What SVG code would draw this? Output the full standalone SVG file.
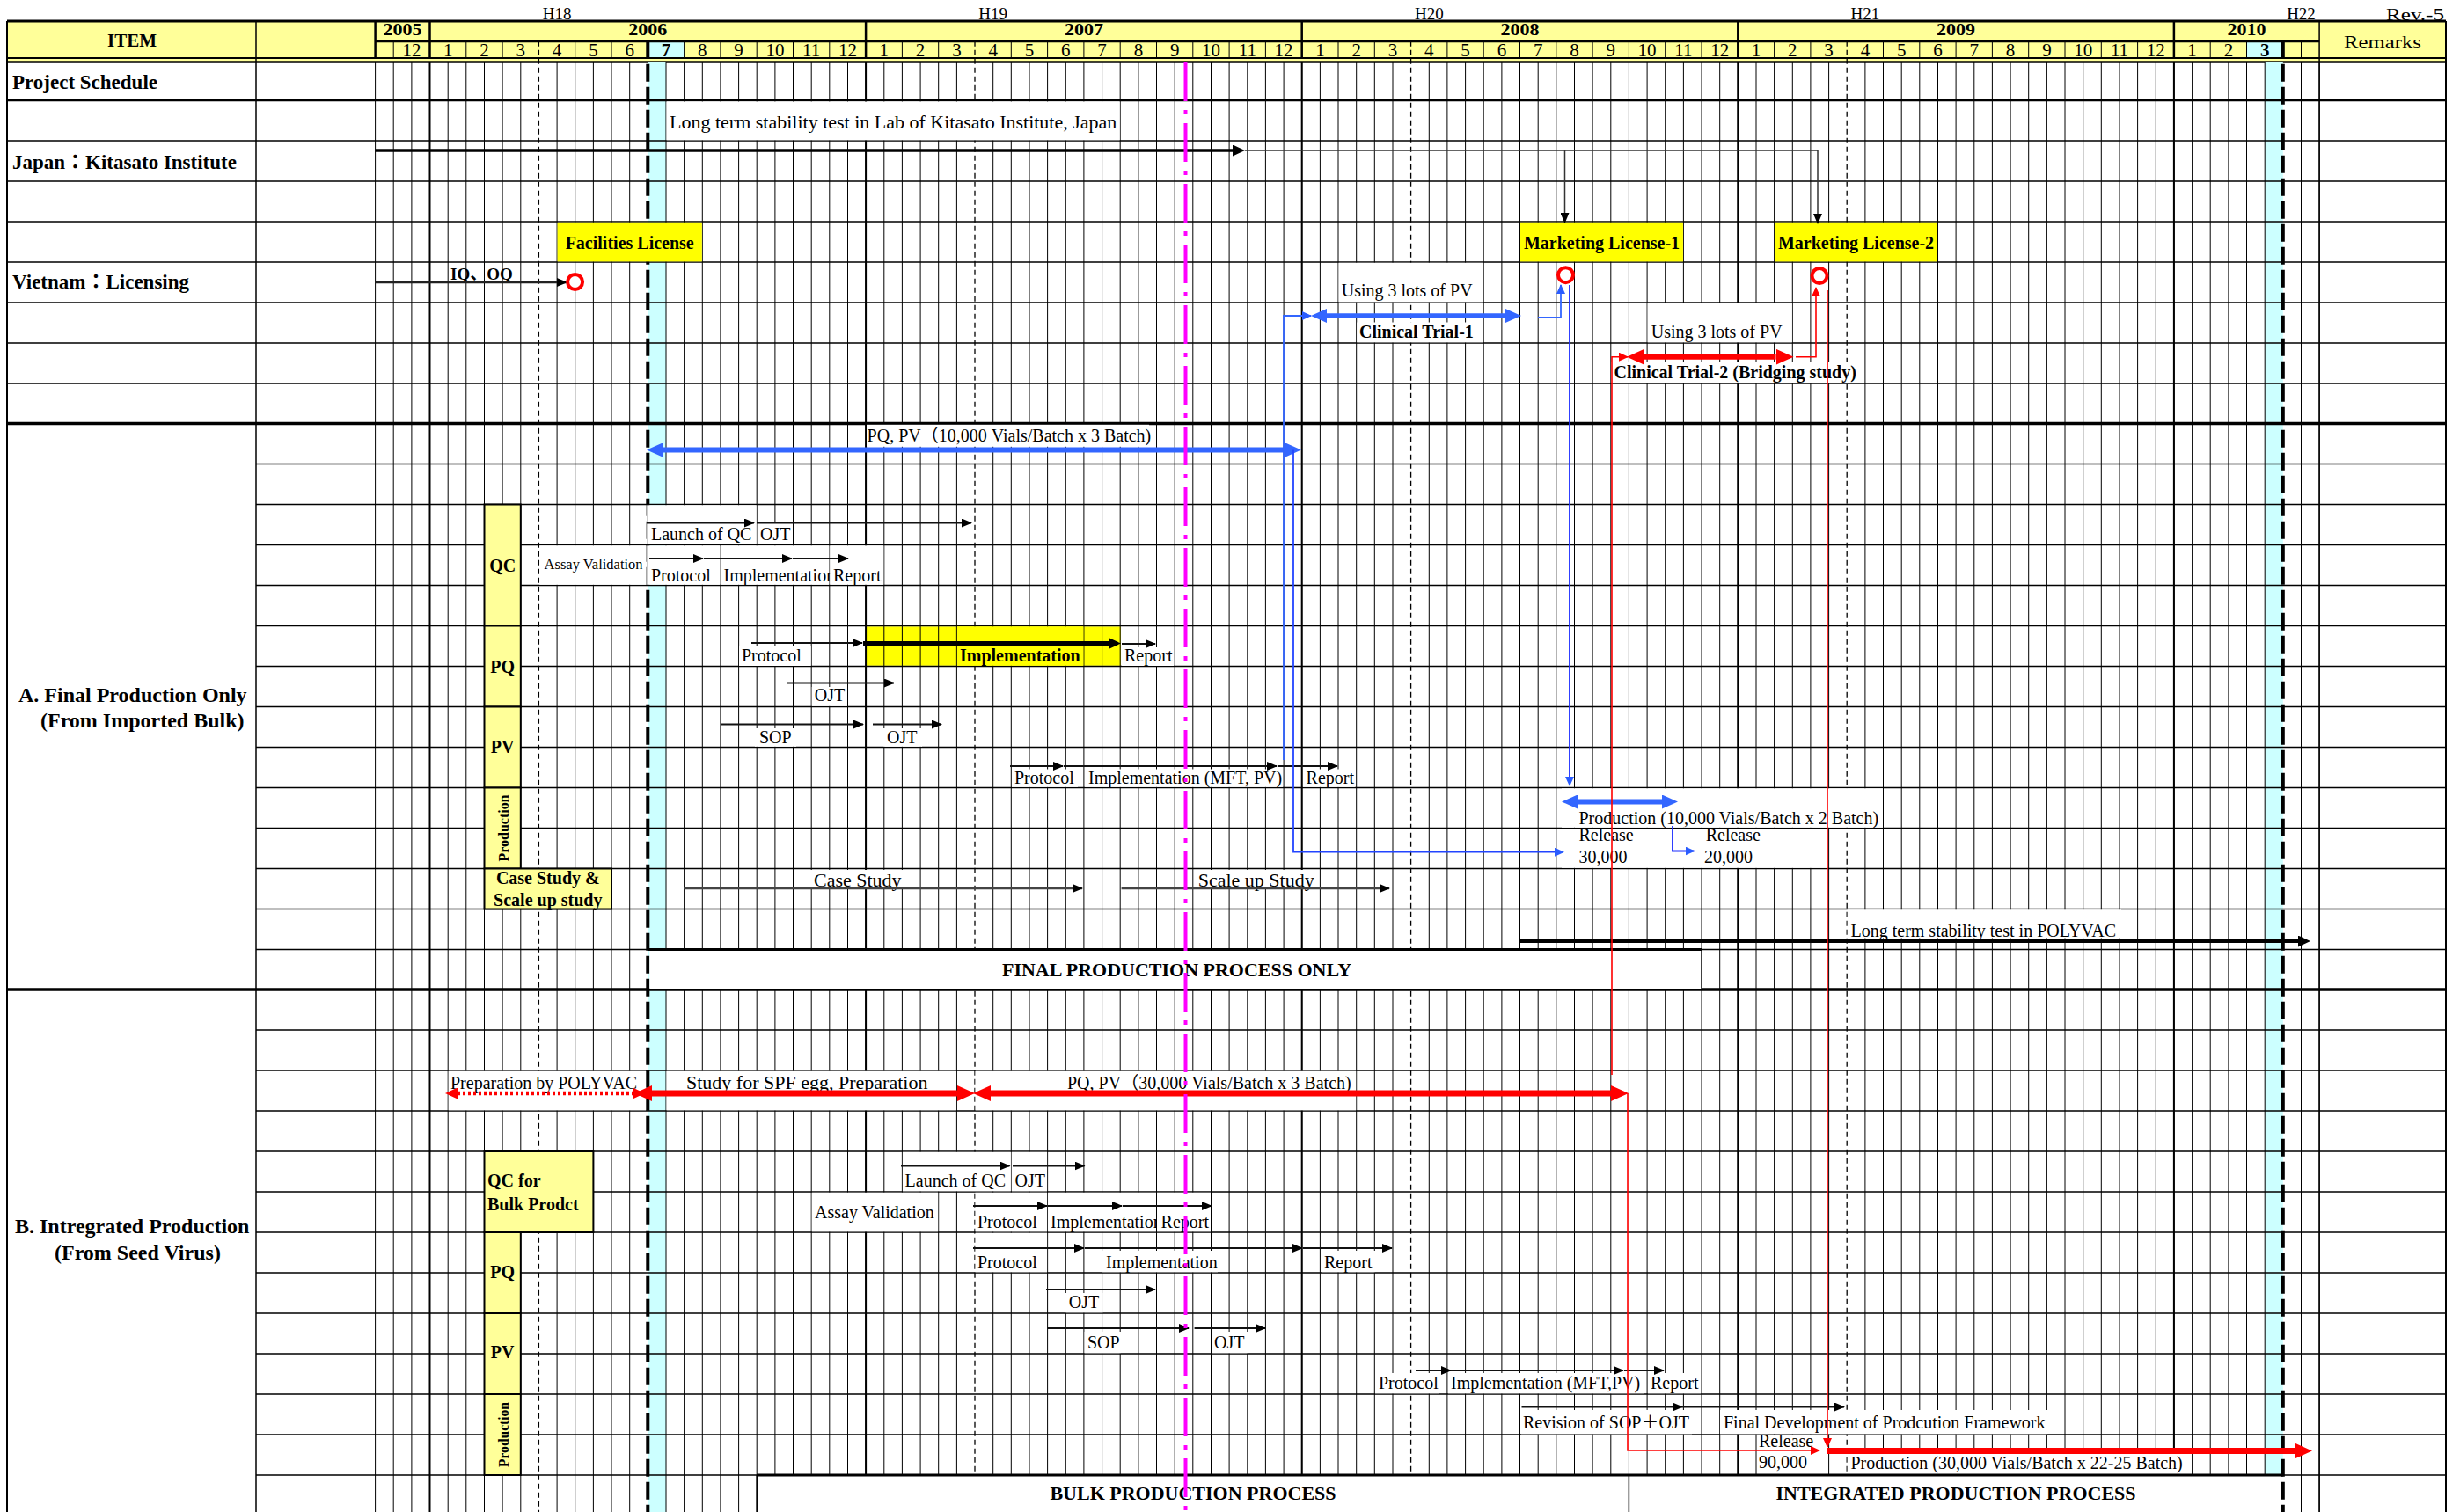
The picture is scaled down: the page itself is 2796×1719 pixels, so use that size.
<svg xmlns="http://www.w3.org/2000/svg" width="2796" height="1719" viewBox="0 0 2796 1719">
<defs>
<style>
.t{font-family:"Liberation Serif","Times New Roman","Noto Sans CJK JP",serif;font-size:20px;fill:#000}
.b{font-family:"Liberation Serif","Times New Roman","Noto Sans CJK JP",serif;font-size:20px;font-weight:bold;fill:#000}
.mo{font-size:21px}
.m{text-anchor:middle}
.e{text-anchor:end}
.lb{fill:#fff}
.yb{fill:#ffff99;stroke:#000;stroke-width:2}
.lic{fill:#ffff00}
.a{fill:none;stroke:#111;stroke-width:2;marker-end:url(#k)}
.bt{fill:none;stroke:#3366ff;stroke-width:1.8;marker-end:url(#bs)}
.rt{fill:none;stroke:#ff0000;stroke-width:1.6;marker-end:url(#rs)}
.bd{fill:none;stroke:#3366ff;stroke-width:6;marker-start:url(#bb);marker-end:url(#bb)}
.rd{fill:none;stroke:#ff0000;stroke-width:7;marker-start:url(#rb);marker-end:url(#rb)}
.ms{fill:#fff;stroke:#ff0000;stroke-width:4}
</style>
<marker id="k" viewBox="0 0 12 10" refX="11" refY="5" markerWidth="12" markerHeight="10" markerUnits="userSpaceOnUse" orient="auto"><path d="M0,0L12,5L0,10z" fill="#000"/></marker>
<marker id="K" viewBox="0 0 14 13" refX="0" refY="6.5" markerWidth="14" markerHeight="13" markerUnits="userSpaceOnUse" orient="auto"><path d="M0,0L14,6.5L0,13z" fill="#000"/></marker>
<marker id="bs" viewBox="0 0 11 10" refX="10" refY="5" markerWidth="11" markerHeight="10" markerUnits="userSpaceOnUse" orient="auto"><path d="M0,0L11,5L0,10z" fill="#2a5cff"/></marker>
<marker id="bb" viewBox="0 0 18 16" refX="0" refY="8" markerWidth="18" markerHeight="16" markerUnits="userSpaceOnUse" orient="auto-start-reverse"><path d="M0,0L18,8L0,16z" fill="#3366ff"/></marker>
<marker id="rs" viewBox="0 0 11 10" refX="10" refY="5" markerWidth="11" markerHeight="10" markerUnits="userSpaceOnUse" orient="auto"><path d="M0,0L11,5L0,10z" fill="#ff0000"/></marker>
<marker id="rb" viewBox="0 0 20 18" refX="0" refY="9" markerWidth="20" markerHeight="18" markerUnits="userSpaceOnUse" orient="auto-start-reverse"><path d="M0,0L20,9L0,18z" fill="#ff0000"/></marker>
<marker id="rdm" viewBox="0 0 14 13" refX="0" refY="6.5" markerWidth="14" markerHeight="13" markerUnits="userSpaceOnUse" orient="auto-start-reverse"><path d="M0,0L14,6.5L0,13z" fill="#ff0000"/></marker>
<clipPath id="c1"><rect x="800" y="630" width="143.3" height="40"/></clipPath>
<clipPath id="c2"><rect x="1190" y="1370" width="125" height="40"/></clipPath>
</defs>
<rect x="0" y="0" width="2796" height="1719" fill="#fff"/>

<g id="header">
<rect x="8" y="24" width="2772" height="46.5" fill="#ffff99"/>
<rect x="736.3" y="46.8" width="41.3" height="19.2" fill="#ccffff"/>
<rect x="2553.5" y="46.8" width="41.3" height="19.2" fill="#ccffff"/>
<path d="M447.2 46.8V66M529.8 46.8V66M571.1 46.8V66M653.7 46.8V66M695 46.8V66M777.6 46.8V66M818.9 46.8V66M860.2 46.8V66M901.5 46.8V66M942.8 46.8V66M1025.4 46.8V66M1066.7 46.8V66M1149.3 46.8V66M1190.6 46.8V66M1231.9 46.8V66M1273.2 46.8V66M1314.5 46.8V66M1355.8 46.8V66M1397.1 46.8V66M1438.4 46.8V66M1521 46.8V66M1562.3 46.8V66M1644.9 46.8V66M1686.2 46.8V66M1727.5 46.8V66M1768.8 46.8V66M1810.1 46.8V66M1851.4 46.8V66M1892.7 46.8V66M1934 46.8V66M2016.6 46.8V66M2057.9 46.8V66M2140.5 46.8V66M2181.8 46.8V66M2223.1 46.8V66M2264.4 46.8V66M2305.7 46.8V66M2347 46.8V66M2388.3 46.8V66M2429.6 46.8V66M2512.2 46.8V66M2553.5 46.8V66M2615.5 46.8V66" stroke="#000" stroke-width="1"/>
<path d="M426.6 24V66M488.5 24V66M984.1 24V66M1479.7 24V66M1975.3 24V66M2470.9 24V66" stroke="#000" stroke-width="2.5"/>
<path d="M8 24H2780M426.6 46.8H2636.1" stroke="#000" stroke-width="3"/>
<path d="M8 66H2780" stroke="#000" stroke-width="2"/>
<path d="M8 70.5H2780" stroke="#000" stroke-width="2.5"/>
<text class="t m" x="633.1" y="22" style="font-size:19px">H18</text>
<text class="t m" x="1128.7" y="22" style="font-size:19px">H19</text>
<text class="t m" x="1624.3" y="22" style="font-size:19px">H20</text>
<text class="t m" x="2119.9" y="22" style="font-size:19px">H21</text>
<text class="t m" x="2615.5" y="22" style="font-size:19px">H22</text>
<text class="t e" x="2778" y="23" style="font-size:19px" textLength="66" lengthAdjust="spacingAndGlyphs">Rev.-5</text>
<text class="b m" x="150" y="53" style="font-size:21px">ITEM</text>
<text class="t m" x="2708" y="55" style="font-size:22px" textLength="88" lengthAdjust="spacingAndGlyphs">Remarks</text>
<text class="b m" x="457.5" y="40" style="font-size:19px" textLength="44" lengthAdjust="spacingAndGlyphs">2005</text>
<text class="b m" x="736.3" y="40" style="font-size:19px" textLength="44" lengthAdjust="spacingAndGlyphs">2006</text>
<text class="b m" x="1231.9" y="40" style="font-size:19px" textLength="44" lengthAdjust="spacingAndGlyphs">2007</text>
<text class="b m" x="1727.5" y="40" style="font-size:19px" textLength="44" lengthAdjust="spacingAndGlyphs">2008</text>
<text class="b m" x="2223.1" y="40" style="font-size:19px" textLength="44" lengthAdjust="spacingAndGlyphs">2009</text>
<text class="b m" x="2553.5" y="40" style="font-size:19px" textLength="44" lengthAdjust="spacingAndGlyphs">2010</text>
<text class="t m mo" x="467.9" y="63.5">12</text>
<text class="t m mo" x="509.2" y="63.5">1</text><text class="t m mo" x="550.5" y="63.5">2</text><text class="t m mo" x="591.8" y="63.5">3</text><text class="t m mo" x="633.1" y="63.5">4</text><text class="t m mo" x="674.4" y="63.5">5</text><text class="t m mo" x="715.7" y="63.5">6</text><text class="b m mo" x="757" y="63.5">7</text><text class="t m mo" x="798.3" y="63.5">8</text><text class="t m mo" x="839.6" y="63.5">9</text><text class="t m mo" x="880.9" y="63.5">10</text><text class="t m mo" x="922.2" y="63.5">11</text><text class="t m mo" x="963.5" y="63.5">12</text>
<text class="t m mo" x="1004.8" y="63.5">1</text><text class="t m mo" x="1046.1" y="63.5">2</text><text class="t m mo" x="1087.4" y="63.5">3</text><text class="t m mo" x="1128.7" y="63.5">4</text><text class="t m mo" x="1170" y="63.5">5</text><text class="t m mo" x="1211.3" y="63.5">6</text><text class="t m mo" x="1252.6" y="63.5">7</text><text class="t m mo" x="1293.9" y="63.5">8</text><text class="t m mo" x="1335.2" y="63.5">9</text><text class="t m mo" x="1376.5" y="63.5">10</text><text class="t m mo" x="1417.8" y="63.5">11</text><text class="t m mo" x="1459.1" y="63.5">12</text>
<text class="t m mo" x="1500.4" y="63.5">1</text><text class="t m mo" x="1541.7" y="63.5">2</text><text class="t m mo" x="1583" y="63.5">3</text><text class="t m mo" x="1624.3" y="63.5">4</text><text class="t m mo" x="1665.6" y="63.5">5</text><text class="t m mo" x="1706.9" y="63.5">6</text><text class="t m mo" x="1748.2" y="63.5">7</text><text class="t m mo" x="1789.5" y="63.5">8</text><text class="t m mo" x="1830.8" y="63.5">9</text><text class="t m mo" x="1872.1" y="63.5">10</text><text class="t m mo" x="1913.4" y="63.5">11</text><text class="t m mo" x="1954.7" y="63.5">12</text>
<text class="t m mo" x="1996" y="63.5">1</text><text class="t m mo" x="2037.3" y="63.5">2</text><text class="t m mo" x="2078.6" y="63.5">3</text><text class="t m mo" x="2119.9" y="63.5">4</text><text class="t m mo" x="2161.2" y="63.5">5</text><text class="t m mo" x="2202.5" y="63.5">6</text><text class="t m mo" x="2243.8" y="63.5">7</text><text class="t m mo" x="2285.1" y="63.5">8</text><text class="t m mo" x="2326.4" y="63.5">9</text><text class="t m mo" x="2367.7" y="63.5">10</text><text class="t m mo" x="2409" y="63.5">11</text><text class="t m mo" x="2450.3" y="63.5">12</text>
<text class="t m mo" x="2491.6" y="63.5">1</text><text class="t m mo" x="2532.9" y="63.5">2</text><text class="b m mo" x="2574.2" y="63.5">3</text>
</g>

<g id="grid">
<rect x="736.3" y="70.5" width="20.7" height="1648.5" fill="#ccffff"/>
<rect x="2574.2" y="70.5" width="20.6" height="1606.5" fill="#ccffff"/>
<rect x="985" y="712.3" width="289" height="44.5" fill="#ffff00"/>
<path d="M426.6 70V1719M447.2 70V1719M467.9 70V1719M488.5 70V1719M509.2 70V1719M529.8 70V1719M550.5 70V1719M571.1 70V1719M591.8 70V1719M633.1 70V1719M653.7 70V1719M674.4 70V1719M695 70V1719M715.7 70V1719M757 70V1719M777.6 70V1719M798.3 70V1719M818.9 70V1719M839.6 70V1719M860.2 70V1719M880.9 70V1719M901.5 70V1719M922.2 70V1719M942.8 70V1719M963.5 70V1719M984.1 70V1719M1004.8 70V1719M1025.4 70V1719M1046.1 70V1719M1066.7 70V1719M1087.4 70V1719M1128.7 70V1719M1149.3 70V1719M1170 70V1719M1190.6 70V1719M1211.3 70V1719M1231.9 70V1719M1252.6 70V1719M1273.2 70V1719M1293.9 70V1719M1314.5 70V1719M1335.2 70V1719M1355.8 70V1719M1376.5 70V1719M1397.1 70V1719M1417.8 70V1719M1438.4 70V1719M1459.1 70V1719M1479.7 70V1719M1500.4 70V1719M1521 70V1719M1541.7 70V1719M1562.3 70V1719M1583 70V1719M1624.3 70V1719M1644.9 70V1719M1665.6 70V1719M1686.2 70V1719M1706.9 70V1719M1727.5 70V1719M1748.2 70V1719M1768.8 70V1719M1789.5 70V1719M1810.1 70V1719M1830.8 70V1719M1851.4 70V1719M1872.1 70V1719M1892.7 70V1719M1913.4 70V1719M1934 70V1719M1954.7 70V1719M1975.3 70V1719M1996 70V1719M2016.6 70V1719M2037.3 70V1719M2057.9 70V1719M2078.6 70V1719M2119.9 70V1719M2140.5 70V1719M2161.2 70V1719M2181.8 70V1719M2202.5 70V1719M2223.1 70V1719M2243.8 70V1719M2264.4 70V1719M2285.1 70V1719M2305.7 70V1719M2326.4 70V1719M2347 70V1719M2367.7 70V1719M2388.3 70V1719M2409 70V1719M2429.6 70V1719M2450.3 70V1719M2470.9 70V1719M2491.6 70V1719M2512.2 70V1719M2532.9 70V1719M2553.5 70V1719M2574.2 70V1719M2615.5 70V1719M2636.1 70V1719" stroke="#000" stroke-width="1"/>
<path d="M488.5 70V1719M984.1 70V1719M1479.7 70V1719M1975.3 70V1719M2470.9 70V1719" stroke="#000" stroke-width="2"/>
<path d="M8 160H2780M8 206H2780M8 252H2780M8 298H2780M8 344H2780M8 390H2780M8 436H2780M291 527.5H2780M291 573.5H2780M291 619.5H2780M291 665.5H2780M291 711.5H2780M291 757.5H2780M291 803.5H2780M291 849.5H2780M291 895.5H2780M291 941.5H2780M291 987.5H2780M291 1033.5H2780M291 1079.5H2780M291 1171H2780M291 1217H2780M291 1263H2780M291 1309H2780M291 1355H2780M291 1401H2780M291 1447H2780M291 1493H2780M291 1539H2780M291 1585H2780M291 1631H2780M291 1677H2780" stroke="#000" stroke-width="1.5"/>
<path d="M8 114H2780" stroke="#000" stroke-width="2.5"/>
<path d="M8 481.5H2780M8 1125H2780" stroke="#000" stroke-width="3.5"/>
<path d="M8 24V1719M2780 24V1719" stroke="#000" stroke-width="2"/>
<path d="M291 24V1719M2636.1 24V1719" stroke="#000" stroke-width="1.5"/>
<path d="M612.4 46.8V1719M1108 46.8V1719M1603.6 46.8V1719M2099.2 46.8V1719" stroke="#000" stroke-width="1.3" stroke-dasharray="6,4"/>
<path d="M736.3 46.8V1719M2594.8 46.8V1719" stroke="#000" stroke-width="4" stroke-dasharray="20,6"/>
</g>

<g id="row-project-schedule"><text class="b" x="14" y="101" style="font-size:23px">Project Schedule</text></g>
<g id="kitasato-stability"><rect class="lb" x="757.5" y="115.5" width="515.2" height="43.8"/><text class="t" x="761" y="146" style="font-size:22px">Long term stability test in Lab of Kitasato Institute, Japan</text></g>
<g id="row-japan"><text class="b" x="14" y="192" style="font-size:23px">Japan：Kitasato Institute</text></g>
<g id="facilities-license"><rect class="lic" x="633.6" y="252.8" width="164.2" height="44.6"/><text class="b m" x="715.7" y="283">Facilities License</text></g>
<g id="marketing-license-1"><rect class="lic" x="1728" y="252.8" width="184.9" height="44.6"/><text class="b m" x="1820.5" y="282.5">Marketing License-1</text></g>
<g id="marketing-license-2"><rect class="lic" x="2017.1" y="252.8" width="184.9" height="44.6"/><text class="b m" x="2109.5" y="282.5">Marketing License-2</text></g>
<g id="row-vietnam"><text class="b" x="14" y="328" style="font-size:23px">Vietnam：Licensing</text></g>
<g id="iq-oq"><text class="b" x="512" y="318" style="font-size:19px">IQ、OQ</text></g>
<g id="clinical-trial-1"><rect class="lb" x="1521.5" y="298.8" width="164.2" height="44.5"/><text class="t" x="1524.7" y="336.5">Using 3 lots of PV</text><rect class="lb" x="1542.2" y="366.5" width="143.5" height="22.8"/><text class="b" x="1545" y="384">Clinical Trial-1</text></g>
<g id="clinical-trial-2"><rect class="lb" x="1872.6" y="344.8" width="164.2" height="44.5"/><text class="t" x="1876.7" y="384">Using 3 lots of PV</text><rect class="lb" x="1831.3" y="412" width="280.7" height="23.3"/><text class="b" x="1834.5" y="430">Clinical Trial-2 (Bridging study)</text></g>

<g id="section-a"><text class="b" x="21" y="797.5" style="font-size:24px">A. Final Production Only</text><text class="b" x="46" y="827" style="font-size:24px">(From Imported Bulk)</text></g>
<g id="pqpv-a"><rect class="lb" x="985" y="482.8" width="321" height="25"/><text class="t" x="985.6" y="502">PQ, PV（10,000 Vials/Batch x 3 Batch)</text></g>
<g id="qc-a">
<rect class="yb" x="550.5" y="573.5" width="41.3" height="138"/><text class="b m" x="571.2" y="650">QC</text>
<rect class="lb" x="734.5" y="574.3" width="125.2" height="44.5"/><text class="t" x="740" y="613.5">Launch of QC</text>
<rect class="lb" x="860.7" y="595" width="40.2" height="23.8"/><text class="t" x="864" y="613.5">OJT</text>
<rect class="lb" x="613.2" y="620.3" width="120.8" height="44.5"/><text class="t" x="618.6" y="647" style="font-size:16.5px">Assay Validation</text>
<rect class="lb" x="734.5" y="620.3" width="83.9" height="44.5"/><rect class="lb" x="819.4" y="620.3" width="122.9" height="44.5"/><rect class="lb" x="943.3" y="620.3" width="61" height="44.5"/>
<path d="M736.3 573.5V665.5" stroke="#000" stroke-width="1"/>
<text class="t" x="740" y="660.5">Protocol</text><text class="t" x="822.5" y="660.5" clip-path="url(#c1)">Implementation</text><text class="t" x="947" y="660.5">Report</text>
</g>
<g id="pq-a">
<rect class="yb" x="550.5" y="711.5" width="41.3" height="92"/><text class="b m" x="571.2" y="765">PQ</text>
<rect class="lb" x="840.1" y="734" width="81.6" height="23"/><text class="t" x="843" y="752">Protocol</text>
<rect class="lic" x="1087.9" y="712.3" width="143.5" height="44.5"/><text class="b" x="1091" y="752">Implementation</text>
<rect class="lb" x="1275" y="736" width="59" height="21"/><text class="t" x="1278" y="752">Report</text>
<rect class="lb" x="922.7" y="781" width="40.3" height="21.8"/><text class="t" x="925.7" y="797">OJT</text>
</g>
<g id="pv-a">
<rect class="yb" x="550.5" y="803.5" width="41.3" height="92"/><text class="b m" x="571.2" y="855.5">PV</text>
<rect class="lb" x="858" y="828" width="47" height="20.8"/><text class="t" x="863" y="845">SOP</text>
<rect class="lb" x="1004" y="828" width="44" height="20.8"/><text class="t" x="1008" y="845">OJT</text>
<rect class="lb" x="1150" y="874.5" width="75" height="20.3"/><text class="t" x="1153" y="890.5">Protocol</text>
<rect class="lb" x="1233" y="874.5" width="225" height="20.3"/><text class="t" x="1237" y="890.5">Implementation (MFT, PV)</text>
<rect class="lb" x="1481" y="874.5" width="59" height="20.3"/><text class="t" x="1484.6" y="890.5">Report</text>
</g>
<g id="production-a">
<rect class="yb" x="550.5" y="895.5" width="41.3" height="92"/><text class="b m" transform="translate(578,941.5) rotate(-90)" style="font-size:17px" textLength="76" lengthAdjust="spacingAndGlyphs">Production</text>
<rect class="lb" x="1775" y="896.3" width="365" height="44.5"/><text class="t" x="1794.5" y="937">Production (10,000 Vials/Batch x 2 Batch)</text>
<rect class="lb" x="1775" y="942.3" width="302.5" height="44.5"/>
<text class="t" x="1794.5" y="955.5">Release</text><text class="t" x="1794.5" y="980.5">30,000</text><text class="t" x="1938.7" y="955.5">Release</text><text class="t" x="1937" y="980.5">20,000</text>
</g>
<g id="case-study">
<rect class="yb" x="550.5" y="987.5" width="144.5" height="46"/><text class="b m" x="622.8" y="1005">Case Study &amp;</text><text class="b m" x="622.8" y="1030">Scale up study</text>
<rect class="lb" x="919" y="989" width="113" height="19.5"/><text class="t" x="925" y="1008" style="font-size:22px">Case Study</text>
<rect class="lb" x="1357" y="989" width="140" height="19.5"/><text class="t" x="1361.7" y="1008" style="font-size:22px">Scale up Study</text>
</g>
<g id="polyvac-stability"><rect class="lb" x="2099.7" y="1034.3" width="311.3" height="32.2"/><text class="t" x="2103.5" y="1064.5">Long term stability test in POLYVAC</text></g>
<g id="final-production">
<rect class="lb" x="738.3" y="1080" width="1195.7" height="44"/>
<path d="M1934 1079.5V1125" stroke="#000" stroke-width="1.5"/>
<path d="M736.3 1079.5H1934" stroke="#000" stroke-width="3"/>
<text class="b m" x="1337.5" y="1110" style="font-size:22px">FINAL PRODUCTION PROCESS ONLY</text>
</g>

<g id="section-b"><text class="b" x="17" y="1402" style="font-size:24px">B. Intregrated Production</text><text class="b" x="62" y="1432" style="font-size:24px">(From Seed Virus)</text></g>
<g id="preparation"><rect class="lb" x="509.7" y="1217.8" width="224.3" height="44.5"/><text class="t" x="512" y="1238">Preparation by POLYVAC</text></g>
<g id="spf-egg"><rect class="lb" x="757.5" y="1217.8" width="329.4" height="44.5"/><text class="t" x="780" y="1238" style="font-size:22px">Study for SPF egg, Preparation</text></g>
<g id="pqpv-b"><rect class="lb" x="1108.5" y="1217.8" width="432.7" height="44.5"/><text class="t" x="1213" y="1238">PQ, PV（30,000 Vials/Batch x 3 Batch)</text></g>
<g id="qc-b">
<rect class="yb" x="550.5" y="1309" width="123.9" height="92"/><text class="b" x="554" y="1349">QC for</text><text class="b" x="554" y="1375.5">Bulk Prodct</text>
<rect class="lb" x="1025.9" y="1309.8" width="122.9" height="44.5"/><text class="t" x="1028.6" y="1349">Launch of QC</text>
<rect class="lb" x="1149.8" y="1309.8" width="40.3" height="44.5"/><text class="t" x="1153.6" y="1349">OJT</text>
<rect class="lb" x="922.7" y="1355.8" width="143.5" height="44.5"/><text class="t" x="926" y="1385">Assay Validation</text>
<rect class="lb" x="1108.5" y="1355.8" width="81.6" height="44.5"/><rect class="lb" x="1191.1" y="1355.8" width="122.9" height="44.5"/><rect class="lb" x="1315" y="1355.8" width="61" height="44.5"/>
<text class="t" x="1111" y="1395.5">Protocol</text><text class="t" x="1194" y="1395.5" clip-path="url(#c2)">Implementation</text><text class="t" x="1319.6" y="1395.5">Report</text>
</g>
<g id="pq-b">
<rect class="yb" x="550.5" y="1401" width="41.3" height="92"/><text class="b m" x="571.2" y="1453">PQ</text>
<rect class="lb" x="1108.5" y="1401.8" width="81.6" height="44.5"/><text class="t" x="1111" y="1441.5">Protocol</text>
<rect class="lb" x="1253" y="1422" width="131" height="24.3"/><text class="t" x="1257" y="1441.5">Implementation</text>
<rect class="lb" x="1502.7" y="1422" width="60.3" height="24.3"/><text class="t" x="1505" y="1441.5">Report</text>
<rect class="lb" x="1211" y="1470" width="42.6" height="22.3"/><text class="t" x="1214.7" y="1487">OJT</text>
</g>
<g id="pv-b">
<rect class="yb" x="550.5" y="1493" width="41.3" height="92"/><text class="b m" x="571.2" y="1544">PV</text>
<rect class="lb" x="1232.6" y="1514" width="41.4" height="24.3"/><text class="t" x="1236" y="1532.5">SOP</text>
<rect class="lb" x="1377" y="1514" width="41" height="24.3"/><text class="t" x="1380" y="1532.5">OJT</text>
<rect class="lb" x="1563" y="1561" width="72" height="23.3"/><text class="t" x="1567" y="1578.5">Protocol</text>
<rect class="lb" x="1646" y="1561" width="222" height="23.3"/><text class="t" x="1649" y="1578.5">Implementation (MFT,PV)</text>
<rect class="lb" x="1873" y="1561" width="60" height="23.3"/><text class="t" x="1876" y="1578.5">Report</text>
</g>
<g id="production-b">
<rect class="yb" x="550.5" y="1585" width="41.3" height="92"/><text class="b m" transform="translate(578,1631) rotate(-90)" style="font-size:17px" textLength="74" lengthAdjust="spacingAndGlyphs">Production</text>
<rect class="lb" x="1729" y="1603" width="194" height="27.3"/><text class="t" x="1731" y="1624">Revision of SOP＋OJT</text>
<rect class="lb" x="1955" y="1603" width="372" height="27.3"/><text class="t" x="1959" y="1624">Final Development of Prodcution Framework</text>
<rect class="lb" x="1997" y="1631.8" width="80" height="44.5"/><text class="t" x="1999" y="1644.5">Release</text><text class="t" x="1999" y="1668.5">90,000</text>
<rect class="lb" x="2099.7" y="1653" width="385.3" height="23.3"/><text class="t" x="2103.5" y="1670">Production (30,000 Vials/Batch x 22-25 Batch)</text>
</g>
<g id="bulk-process">
<rect class="lb" x="861" y="1678" width="989.5" height="41"/>
<path d="M860.2 1677V1719" stroke="#000" stroke-width="1.5"/>
<text class="b m" x="1356" y="1705" style="font-size:22px">BULK PRODUCTION PROCESS</text>
</g>
<g id="integrated-process">
<rect class="lb" x="1852.4" y="1678" width="740.4" height="41"/>
<path d="M1851.4 1677V1719" stroke="#000" stroke-width="1.5"/>
<path d="M860.2 1677H2594.8" stroke="#000" stroke-width="3"/>
<text class="b m" x="2223" y="1705" style="font-size:22px">INTEGRATED PRODUCTION PROCESS</text>
</g>

<g id="connectors">
<path d="M426.6 171H1401" fill="none" stroke="#000" stroke-width="3.5" marker-end="url(#K)"/>
<path d="M1415 171H2066V254" class="a" style="stroke:#333;stroke-width:1.5"/>
<path d="M1778.5 171V253" class="a" style="stroke:#333;stroke-width:1.5"/>
<path d="M426.6 321H644" class="a" style="stroke:#222;stroke-width:2.5"/>
<path d="M735 594.5H857"  class="a"/><path d="M860 594.5H1104" class="a"/>
<path d="M738 635H799" class="a"/><path d="M800 635H900" class="a"/><path d="M901 635H964" class="a"/>
<path d="M854 731H980" class="a"/>
<path d="M981 731.5H1260" fill="none" stroke="#000" stroke-width="5" marker-end="url(#K)"/>
<path d="M1275 732H1313" class="a"/>
<path d="M894 776.5H1016" class="a"/>
<path d="M820 823.5H981" class="a"/><path d="M992 823.5H1070" class="a"/>
<path d="M1148 871H1208" class="a"/><path d="M1209 871H1451" class="a"/><path d="M1452 871H1520" class="a"/>
<path d="M777 1010H1230" class="a" style="stroke:#444;stroke-width:2.5"/>
<path d="M1274.6 1010H1579" class="a" style="stroke:#444;stroke-width:2.5"/>
<path d="M1726 1070H2612" fill="none" stroke="#000" stroke-width="4" marker-end="url(#K)"/>
<path d="M1024 1325.5H1147.5" class="a"/><path d="M1151 1325.5H1232.5" class="a"/>
<path d="M1106 1371H1190" class="a"/><path d="M1191 1371H1275" class="a"/><path d="M1276 1371H1377" class="a"/>
<path d="M1106 1419H1232" class="a"/><path d="M1233 1419H1480" class="a"/><path d="M1481 1419H1582" class="a"/>
<path d="M1189 1466H1313" class="a"/>
<path d="M1190 1510H1351" class="a"/><path d="M1357.6 1510H1438" class="a"/>
<path d="M1609 1558H1649" class="a"/><path d="M1649 1558H1845" class="a"/><path d="M1846 1558H1891" class="a"/>
<path d="M1729.5 1599.5H1912" class="a"/><path d="M1912 1599.5H2096" class="a"/>

<path d="M753 511.5H1461" class="bd"/>
<path d="M1508 359H1711" class="bd" style="stroke-width:5.5"/>
<path d="M1793 911.5H1889" class="bd"/>
<path d="M1459 864V359H1490" class="bt"/>
<path d="M1470 511.5V968.7H1777" class="bt" style="stroke:#2244ff"/>
<path d="M1748 361H1774V324" class="bt"/>
<path d="M1784 324V893" class="bt" style="stroke:#1a2cff"/>
<path d="M1901 939V967.5H1925.5" class="bt" style="stroke:#1a2cff"/>

<path d="M1869 405.7H2018.6" class="rd" style="stroke-width:6"/>
<path d="M1832 1222V405.7H1850" class="rt"/>
<path d="M2041 405.7H2064V327" class="rt"/>
<path d="M2077 330V1645" class="rt"/>
<path d="M1850 1243V1649H2068" class="rt"/>
<path d="M520 1243H719" fill="none" stroke="#ff0000" stroke-width="4.5" stroke-dasharray="3,3" marker-start="url(#rdm)" marker-end="url(#rdm)"/>
<path d="M741 1243H1088" class="rd"/>
<path d="M1126 1243H1831" class="rd"/>
<path d="M2077 1649.5H2608" fill="none" stroke="#ff0000" stroke-width="7" marker-end="url(#rb)"/>
</g>

<g id="milestones">
<circle class="ms" cx="653.6" cy="320.5" r="8.5"/>
<circle class="ms" cx="1779.5" cy="312.7" r="8.5"/>
<circle class="ms" cx="2068" cy="313.5" r="8.5"/>
</g>

<g id="today-line">
<path d="M1347.5 71V1719" stroke="#ff00ff" stroke-width="4" stroke-dasharray="44,10,5,10"/>
</g>
</svg>
